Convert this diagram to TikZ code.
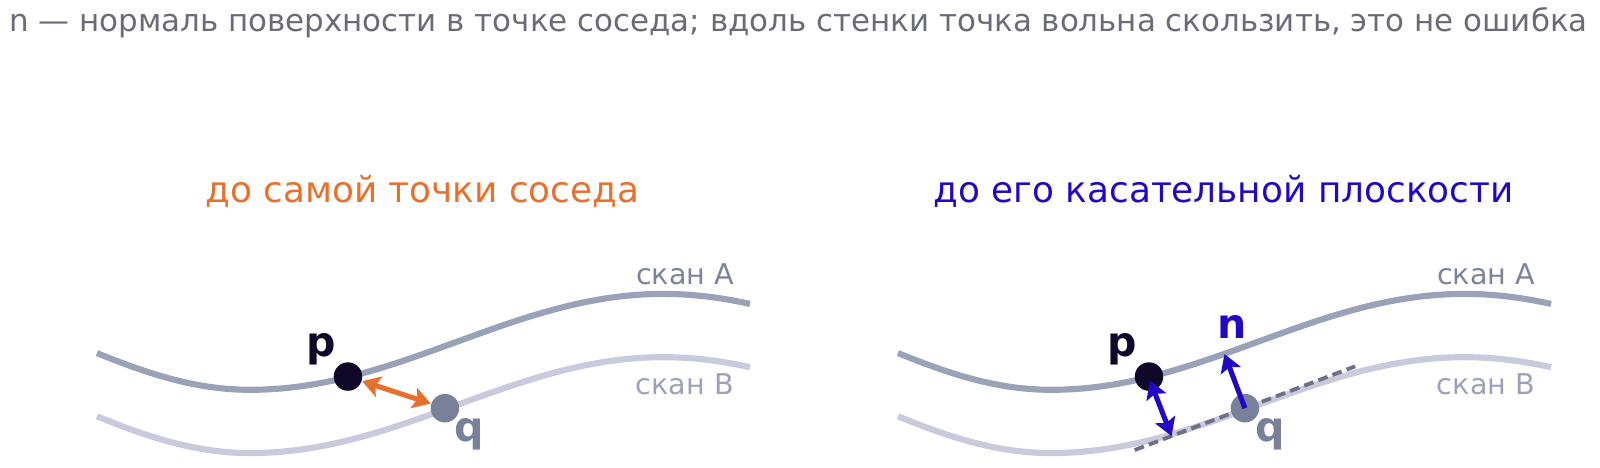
\documentclass[tikz,border=0pt]{standalone}
\usepackage{fontspec}
\setmainfont{DejaVu Sans}
\usetikzlibrary{calc,arrows.meta}

\definecolor{scanA}{HTML}{9AA2B8}
\definecolor{scanB}{HTML}{C9CADB}
\definecolor{labA}{HTML}{7C839C}
\definecolor{labB}{HTML}{9DA1B8}
\definecolor{note}{HTML}{6B6B78}
\definecolor{orng}{HTML}{E8702E}
\definecolor{blu}{HTML}{2008C4}
\definecolor{pcol}{HTML}{0F0828}
\definecolor{qcol}{HTML}{7A809A}
\definecolor{tang}{HTML}{6E7088}

\tikzset{
  scan/.style={line width=1.75pt},
  dot/.style={circle, inner sep=0pt, minimum size=0.285cm},
  lbl/.style={font=\fontsize{11.7}{13}\selectfont\bfseries},
  arr/.style={line width=1.45pt, {Stealth[length=5pt,width=6pt,inset=1pt]}-{Stealth[length=5pt,width=6pt,inset=1pt]}}
}

\begin{document}
\begin{tikzpicture}[x=0.010204cm,y=-0.010204cm]
\useasboundingbox (0,0) rectangle (1568,458.6);

\node[anchor=west, text=note, font=\fontsize{8.8}{10}\selectfont] (title) at (-3,22)
  {n — нормаль поверхности в точке соседа; вдоль стенки точка вольна скользить, это не ошибка};

\node[text=orng, font=\fontsize{10.2}{12}\selectfont] (headL) at (414,188) {до самой точки соседа};
\node[text=blu, font=\fontsize{10.2}{12}\selectfont] (headR) at (1199,188) {до его касательной плоскости};

% two scans, same shape in both panels
\foreach \o in {0,785} {
\draw[scan, scanB, shift={(\o,62)}] plot[domain=95:735, samples=90] (\x, {335+47*cos((\x-245)/ifthenelse(\x<245,353,405)*180)});
\draw[scan, scanA, shift={(\o,0)}] plot[domain=95:735, samples=90] (\x, {335+47*cos((\x-245)/ifthenelse(\x<245,353,405)*180)});
\node[anchor=east, inner sep=0pt, text=labA, font=\fontsize{8.15}{9}\selectfont] at (720+\o,269) {скан A};
\node[anchor=east, inner sep=0pt, text=labB, font=\fontsize{8.15}{9}\selectfont] at (720+\o,377) {скан B};
}

% left panel
\node[dot, fill=pcol] (p1) at (341,369) {};
\node[dot, fill=qcol] (q1) at (436,400) {};
\node[lbl, text=pcol] (p1lbl) at (315,342) {p};
\node[lbl, text=qcol] (q1lbl) at (460,426) {q};
\draw[arr, orng] (p1) -- (q1);

% right panel
\coordinate (t1) at ($(1220,400)+(-108,41)$);
\coordinate (t2) at ($(1220,400)+(108,-41)$);
\draw[line width=1.1pt, tang, dash pattern=on 2.8pt off 1.5pt] (t1) -- (t2);
\node[dot, fill=pcol] (p2) at (1126,369) {};
\node[dot, fill=qcol] (q2) at (1220,400) {};
\node[lbl, text=pcol] (p2lbl) at (1100,342) {p};
\node[lbl, text=qcol] (q2lbl) at (1245,426) {q};
\coordinate (nend) at ($(q2)+(-20,-53)$);
\coordinate (foot) at ($(t1)!(p2)!(t2)$);
\draw[line width=1.45pt, blu, -{Stealth[length=5pt,width=6pt,inset=1pt]}] (q2.center) -- (nend);
\node[lbl, text=blu] (nlbl) at (1207,320) {n};
\draw[arr, blu] ($(p2.center)+(1,4)$) -- (foot);

\end{tikzpicture}
\end{document}
